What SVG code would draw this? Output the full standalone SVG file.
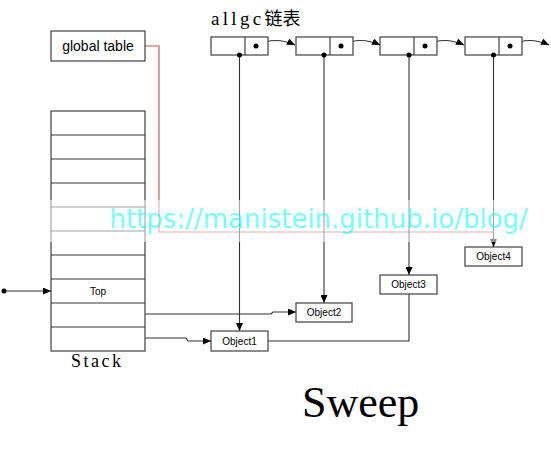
<svg xmlns="http://www.w3.org/2000/svg" width="551" height="453" viewBox="0 0 551 453">
<style>
.box{fill:#fff;stroke:#404040;stroke-width:1.2}
.ln{fill:none;stroke:#333;stroke-width:1.1}
.red{fill:none;stroke:#c0504d;stroke-width:1.1}
.lbl{font-family:"Liberation Sans",Arial,sans-serif;font-size:10px;fill:#000;text-anchor:middle}
.dot{fill:#000}
.serif{font-family:"Liberation Serif","Times New Roman",serif;fill:#000}
</style>
<defs>
<marker id="ah" viewBox="0 0 8 7" refX="8" refY="3.5" markerWidth="8" markerHeight="7" markerUnits="userSpaceOnUse" orient="auto">
<path d="M0,0 L8,3.5 L0,7 z" fill="#000"/>
</marker>
</defs>
<rect width="551" height="453" fill="#fff"/>
<g id="connectors">
<polyline class="red" points="145,46 159,46 159,232 493,232"/>
<line class="ln" x1="239.5" y1="55" x2="239.5" y2="331" marker-end="url(#ah)"/>
<line class="ln" x1="324" y1="55" x2="324" y2="303" marker-end="url(#ah)"/>
<line class="ln" x1="409" y1="55" x2="409" y2="275" marker-end="url(#ah)"/>
<line class="ln" x1="493.5" y1="55" x2="493.5" y2="247" marker-end="url(#ah)"/>
<path class="ln" d="M256,46 C268,39 282,39 295,45" marker-end="url(#ah)"/>
<path class="ln" d="M341,46 C353,39 367,39 380,45" marker-end="url(#ah)"/>
<path class="ln" d="M425,46 C437,39 451,39 464,45" marker-end="url(#ah)"/>
<path class="ln" d="M510,46 C522,39 536,39 549,45" marker-end="url(#ah)"/>
<circle class="dot" cx="4" cy="291" r="2.5"/>
<line class="ln" x1="4" y1="291" x2="51" y2="291" marker-end="url(#ah)"/>
<polyline class="ln" points="145,314 271,314 273,312 296,312" marker-end="url(#ah)"/>
<polyline class="ln" points="145,338 186,338 188,341 211,341" marker-end="url(#ah)"/>
<polyline class="ln" points="268,341 409,341 409,294"/>
</g>
<g id="global-table">
<rect class="box" x="51" y="31" width="94" height="30"/>
<text x="98" y="51" font-family="'Liberation Sans',Arial,sans-serif" font-size="14" text-anchor="middle">global table</text>
</g>
<g id="allgc-title">
<text class="serif" x="211" y="25" font-size="19"><tspan letter-spacing="3.3">allgc</tspan><tspan font-family="'Noto Sans CJK SC',sans-serif" font-size="18">链表</tspan></text>
</g>
<g id="allgc-node1"><rect class="box" x="211" y="37" width="57" height="18"/><line class="ln" x1="245" y1="37" x2="245" y2="55"/></g>
<g id="allgc-node2"><rect class="box" x="296" y="37" width="57" height="18"/><line class="ln" x1="330" y1="37" x2="330" y2="55"/></g>
<g id="allgc-node3"><rect class="box" x="380" y="37" width="57" height="18"/><line class="ln" x1="414" y1="37" x2="414" y2="55"/></g>
<g id="allgc-node4"><rect class="box" x="465" y="37" width="57" height="18"/><line class="ln" x1="499" y1="37" x2="499" y2="55"/></g>
<g id="allgc-dots">
<circle class="dot" cx="239.5" cy="55" r="2.5"/><circle class="dot" cx="324" cy="55" r="2.5"/><circle class="dot" cx="409" cy="55" r="2.5"/><circle class="dot" cx="493.5" cy="55" r="2.5"/>
<circle class="dot" cx="256" cy="46" r="2.5"/><circle class="dot" cx="341" cy="46" r="2.5"/><circle class="dot" cx="425" cy="46" r="2.5"/><circle class="dot" cx="510" cy="46" r="2.5"/>
</g>
<g id="stack">
<rect class="box" x="51" y="111" width="94" height="240"/>
<g class="ln">
<line x1="51" y1="135" x2="145" y2="135"/><line x1="51" y1="159" x2="145" y2="159"/>
<line x1="51" y1="183" x2="145" y2="183"/><line x1="51" y1="207" x2="145" y2="207"/>
<line x1="51" y1="231" x2="145" y2="231"/><line x1="51" y1="255" x2="145" y2="255"/>
<line x1="51" y1="279" x2="145" y2="279"/><line x1="51" y1="303" x2="145" y2="303"/>
<line x1="51" y1="327" x2="145" y2="327"/>
</g>
<text class="lbl" x="98" y="295">Top</text>
<text class="serif" x="71" y="367" font-size="18" letter-spacing="2.5">Stack</text>
</g>
<g id="object1"><rect class="box" x="211" y="331" width="57" height="20"/><text class="lbl" x="239.5" y="344.5">Object1</text></g>
<g id="object2"><rect class="box" x="296" y="303" width="56" height="19"/><text class="lbl" x="324" y="316">Object2</text></g>
<g id="object3"><rect class="box" x="380" y="275" width="57" height="19"/><text class="lbl" x="408.5" y="288">Object3</text></g>
<g id="object4"><rect class="box" x="465" y="247" width="57" height="19"/><text class="lbl" x="493.5" y="260">Object4</text></g>
<text class="serif" x="302" y="417" font-size="44">Sweep</text>
<g id="watermark">
<rect x="45" y="200" width="492" height="42" fill="#fff" opacity="0.55"/>
<text x="109.5" y="228" font-family="'DejaVu Sans',Verdana,sans-serif" font-size="26" fill="#00ffff" opacity="0.55">https://manistein.github.io/blog/</text>
</g>
</svg>
